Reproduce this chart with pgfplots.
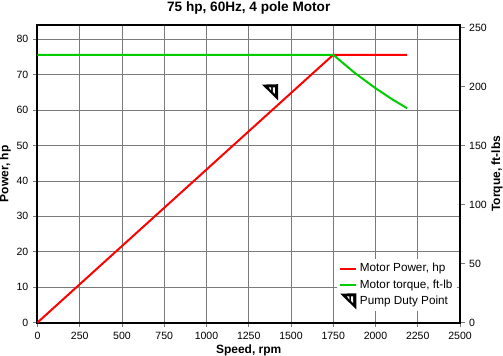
\documentclass[border=0pt]{standalone}
\usepackage{pgfplots}
\pgfplotsset{compat=1.18}
\usepackage{fontspec}
\setmainfont{Liberation Sans}
\pgfdeclareplotmark{duty}{%
  \pgfsetlinewidth{0pt}%
  \pgfsetfillcolor{black}%
  \pgfpathmoveto{\pgfpoint{-6pt}{5.8pt}}\pgfpathlineto{\pgfpoint{6pt}{6.1pt}}\pgfpathlineto{\pgfpoint{6pt}{-6pt}}\pgfpathclose\pgfusepathqfill
  \pgfsetfillcolor{white}%
  \pgfpathmoveto{\pgfpoint{-1pt}{3.8pt}}\pgfpathlineto{\pgfpoint{0.9pt}{3.8pt}}\pgfpathlineto{\pgfpoint{0.9pt}{1.2pt}}\pgfpathclose\pgfusepathqfill
  \pgfpathmoveto{\pgfpoint{2.1pt}{3.8pt}}\pgfpathlineto{\pgfpoint{3.7pt}{3.8pt}}\pgfpathlineto{\pgfpoint{3.7pt}{-1.2pt}}\pgfpathlineto{\pgfpoint{2.1pt}{0.4pt}}\pgfpathclose\pgfusepathqfill
}
\definecolor{gridgray}{gray}{0.48}
\definecolor{motorred}{RGB}{255,0,0}
\definecolor{motorgreen}{RGB}{0,205,0}
\pgfplotsset{
  base/.style={
    scale only axis, width=316.9pt, height=223.1pt,
    at={(28.1pt,25.1pt)}, anchor=south west,
    xmin=0, xmax=2500, clip=false,
    tick label style={font=\fontsize{7.9}{9}\selectfont},
    label style={font=\fontsize{9}{10}\selectfont\bfseries},
    /pgf/number format/assume math mode=true,
    /pgf/number format/1000 sep={},
    axis line style={line width=1.5pt,black},
    tick style={line width=0.45pt,draw=gridgray},
    tickwidth=3.4pt,
    tick align=outside,
  }
}
\begin{document}
\begin{tikzpicture}[x=1pt,y=1pt]
\useasboundingbox (0,0) rectangle (377.25,267);
\begin{axis}[base,
  ymin=0, ymax=84,
  xtick={0,250,...,2500}, ytick={0,10,...,80},
  xtick pos=bottom, ytick pos=left,
  grid=major, grid style={line width=0.5pt,gridgray},
  xlabel={Speed, rpm}, ylabel={Power, hp},
  xlabel style={at={(axis description cs:0.5,0)},yshift=-13.4pt,anchor=north},
  ylabel style={at={(axis description cs:0,0.5)},yshift=16.4pt,anchor=south},
  title style={font=\fontsize{10.2}{11}\selectfont\bfseries,at={(axis description cs:0.5,1)},yshift=-1.2pt,anchor=south},
  title={75 hp, 60Hz, 4 pole Motor},
]
\addplot[motorred,line width=1.5pt] coordinates {(0,0)(1750,75.6)(2187.5,75.6)};
\end{axis}
\begin{axis}[base,
  ymin=0, ymax=252,
  axis x line=none,
  axis y line*=right,
  ytick={0,50,...,250},
  ylabel={Torque, ft-lbs},
  ylabel style={at={(axis description cs:1,0.5)},yshift=-20pt,anchor=north},
  legend cell align=left,
  legend image code/.code={\draw[#1] (0pt,0pt) -- (12pt,0pt);},
  legend style={at={(axis cs:2485,9.2)},anchor=south east,draw=none,fill=white,
    font=\fontsize{8.8}{10}\selectfont,row sep=0.3pt,inner sep=1.5pt,
    /tikz/every even column/.append style={column sep=2pt}},
]
\addlegendimage{motorred,line width=1.5pt}
\addlegendentry{Motor Power, hp}
\addplot[motorgreen,line width=1.5pt] coordinates {(0,226.8)(1750,226.8)(1875,211.7)(2000,198.5)(2100,189)(2187.5,181.5)};
\addlegendentry{Motor torque, ft-lb}
\addplot[only marks,mark=duty,black,legend image code/.code={\draw plot[mark=duty] coordinates {(6pt,0pt)};}] coordinates {(1376,195)};
\addlegendentry{Pump Duty Point}
\end{axis}
\end{tikzpicture}
\end{document}
